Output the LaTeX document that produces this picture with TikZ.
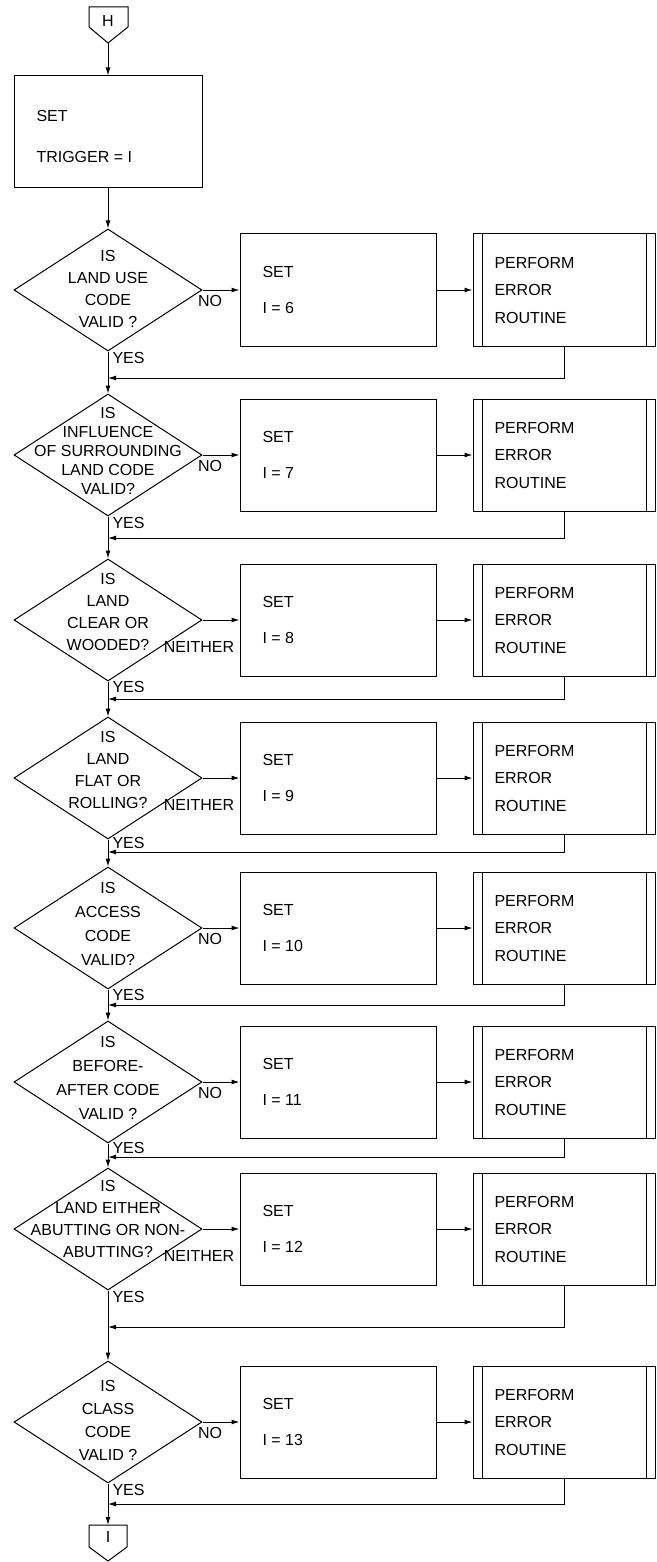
\documentclass[tikz,border=0pt]{standalone}
\usepackage{fontspec}
\setmainfont{Liberation Sans}
\usepackage{tikz}
\usetikzlibrary{shapes.geometric,arrows.meta,positioning}

\begin{document}
\begin{tikzpicture}[x=1pt,y=1pt,line width=1pt,
    font=\fontsize{16}{22}\selectfont,
    decision/.style={diamond,draw,minimum width=188pt,minimum height=122pt,inner sep=0pt},
    setbox/.style={rectangle,draw,minimum width=196pt,minimum height=112pt,inner sep=0pt},
    errbox/.style={rectangle,draw,minimum width=182pt,minimum height=112pt,inner sep=0pt},
    qtext/.style={align=center,inner sep=0pt},
    ltext/.style={anchor=west,inner sep=0pt},
    flow/.style={-{Latex[length=8pt,width=5pt]}}]
        \useasboundingbox (0,0) rectangle (656,-1562);

        % start connector and first box
        \draw (89,-7) -- (128,-7) -- (128,-27) -- (108,-43) -- (89,-27) -- cycle;
        \node (h) at (108,-21) {H};
        \coordinate (htip) at (108,-43);
        \node[rectangle,draw,minimum width=188pt,minimum height=112pt] (b1) at (108,-132) {};
        \node[ltext] (b1a) at (36,-116) {SET};
        \node[ltext] (b1b) at (36,-157) {TRIGGER = I};
        \draw[flow] (htip) -- (b1.north);

        % land use code
        \node[decision] (d1) at (108,-290) {};
        \node[qtext] (q1) at (108,-289) {IS\\LAND USE\\CODE\\VALID ?};
        \node[setbox] (s1) at (338,-290) {};
        \node[ltext] (s1a) at (262,-272) {SET};
        \node[ltext] (s1b) at (262,-308) {I = 6};
        \node[errbox] (p1) at (564,-290) {};
        \node[ltext] (p1a) at (494,-263) {PERFORM};
        \node[ltext] (p1b) at (494,-290) {ERROR};
        \node[ltext] (p1c) at (494,-318) {ROUTINE};
        \node (n1) at (210,-301) {NO};
        \node[ltext] (y1) at (112,-358) {YES};
        \coordinate (r1) at (108,-378);
        \draw ([xshift=10pt]p1.north west) -- ([xshift=10pt]p1.south west) ([xshift=-9pt]p1.north east) -- ([xshift=-9pt]p1.south east);
        \draw[flow] (b1.south) -- (d1.north);
        \draw[flow] (d1.east) -- (s1.west);
        \draw[flow] (s1.east) -- (p1.west);
        \draw[flow] (p1.south) |- (r1);

        % influence of surrounding land
        \node[decision] (d2) at (108,-455) {};
        \node[qtext,font=\fontsize{16}{19}\selectfont] (q2) at (108,-451) {IS\\INFLUENCE\\OF SURROUNDING\\LAND CODE\\VALID?};
        \node[setbox] (s2) at (338,-455) {};
        \node[ltext] (s2a) at (262,-437) {SET};
        \node[ltext] (s2b) at (262,-473) {I = 7};
        \node[errbox] (p2) at (564,-455) {};
        \node[ltext] (p2a) at (494,-428) {PERFORM};
        \node[ltext] (p2b) at (494,-455) {ERROR};
        \node[ltext] (p2c) at (494,-483) {ROUTINE};
        \node (n2) at (210,-466) {NO};
        \node[ltext] (y2) at (112,-523) {YES};
        \coordinate (r2) at (108,-538);
        \draw ([xshift=10pt]p2.north west) -- ([xshift=10pt]p2.south west) ([xshift=-9pt]p2.north east) -- ([xshift=-9pt]p2.south east);
        \draw[flow] (d1.south) -- (d2.north);
        \draw[flow] (d2.east) -- (s2.west);
        \draw[flow] (s2.east) -- (p2.west);
        \draw[flow] (p2.south) |- (r2);

        % clear or wooded
        \node[decision] (d3) at (108,-620) {};
        \node[qtext] (q3) at (108,-612) {IS\\LAND\\CLEAR OR\\WOODED?};
        \node[setbox] (s3) at (338,-620) {};
        \node[ltext] (s3a) at (262,-602) {SET};
        \node[ltext] (s3b) at (262,-638) {I = 8};
        \node[errbox] (p3) at (564,-620) {};
        \node[ltext] (p3a) at (494,-593) {PERFORM};
        \node[ltext] (p3b) at (494,-620) {ERROR};
        \node[ltext] (p3c) at (494,-648) {ROUTINE};
        \node (n3) at (199,-647) {NEITHER};
        \node[ltext] (y3) at (112,-687) {YES};
        \coordinate (r3) at (108,-699);
        \draw ([xshift=10pt]p3.north west) -- ([xshift=10pt]p3.south west) ([xshift=-9pt]p3.north east) -- ([xshift=-9pt]p3.south east);
        \draw[flow] (d2.south) -- (d3.north);
        \draw[flow] (d3.east) -- (s3.west);
        \draw[flow] (s3.east) -- (p3.west);
        \draw[flow] (p3.south) |- (r3);

        % flat or rolling
        \node[decision] (d4) at (108,-778) {};
        \node[qtext] (q4) at (108,-770) {IS\\LAND\\FLAT OR\\ROLLING?};
        \node[setbox] (s4) at (338,-778) {};
        \node[ltext] (s4a) at (262,-760) {SET};
        \node[ltext] (s4b) at (262,-796) {I = 9};
        \node[errbox] (p4) at (564,-778) {};
        \node[ltext] (p4a) at (494,-751) {PERFORM};
        \node[ltext] (p4b) at (494,-778) {ERROR};
        \node[ltext] (p4c) at (494,-806) {ROUTINE};
        \node (n4) at (199,-805) {NEITHER};
        \node[ltext] (y4) at (112,-843) {YES};
        \coordinate (r4) at (108,-852);
        \draw ([xshift=10pt]p4.north west) -- ([xshift=10pt]p4.south west) ([xshift=-9pt]p4.north east) -- ([xshift=-9pt]p4.south east);
        \draw[flow] (d3.south) -- (d4.north);
        \draw[flow] (d4.east) -- (s4.west);
        \draw[flow] (s4.east) -- (p4.west);
        \draw[flow] (p4.south) |- (r4);

        % access code
        \node[decision] (d5) at (108,-928) {};
        \node[qtext,font=\fontsize{16}{24}\selectfont] (q5) at (108,-924) {IS\\ACCESS\\CODE\\VALID?};
        \node[setbox] (s5) at (338,-928) {};
        \node[ltext] (s5a) at (262,-910) {SET};
        \node[ltext] (s5b) at (262,-946) {I = 10};
        \node[errbox] (p5) at (564,-928) {};
        \node[ltext] (p5a) at (494,-901) {PERFORM};
        \node[ltext] (p5b) at (494,-928) {ERROR};
        \node[ltext] (p5c) at (494,-956) {ROUTINE};
        \node (n5) at (210,-939) {NO};
        \node[ltext] (y5) at (112,-995) {YES};
        \coordinate (r5) at (108,-1005);
        \draw ([xshift=10pt]p5.north west) -- ([xshift=10pt]p5.south west) ([xshift=-9pt]p5.north east) -- ([xshift=-9pt]p5.south east);
        \draw[flow] (d4.south) -- (d5.north);
        \draw[flow] (d5.east) -- (s5.west);
        \draw[flow] (s5.east) -- (p5.west);
        \draw[flow] (p5.south) |- (r5);

        % before-after code
        \node[decision] (d6) at (108,-1082) {};
        \node[qtext,font=\fontsize{16}{24}\selectfont] (q6) at (108,-1078) {IS\\BEFORE-\\AFTER CODE\\VALID ?};
        \node[setbox] (s6) at (338,-1082) {};
        \node[ltext] (s6a) at (262,-1064) {SET};
        \node[ltext] (s6b) at (262,-1100) {I = 11};
        \node[errbox] (p6) at (564,-1082) {};
        \node[ltext] (p6a) at (494,-1055) {PERFORM};
        \node[ltext] (p6b) at (494,-1082) {ERROR};
        \node[ltext] (p6c) at (494,-1110) {ROUTINE};
        \node (n6) at (210,-1093) {NO};
        \node[ltext] (y6) at (112,-1148) {YES};
        \coordinate (r6) at (108,-1157);
        \draw ([xshift=10pt]p6.north west) -- ([xshift=10pt]p6.south west) ([xshift=-9pt]p6.north east) -- ([xshift=-9pt]p6.south east);
        \draw[flow] (d5.south) -- (d6.north);
        \draw[flow] (d6.east) -- (s6.west);
        \draw[flow] (s6.east) -- (p6.west);
        \draw[flow] (p6.south) |- (r6);

        % abutting or non-abutting
        \node[decision] (d7) at (108,-1229) {};
        \node[qtext] (q7) at (108,-1219) {IS\\LAND EITHER\\ABUTTING OR NON-\\ABUTTING?};
        \node[setbox] (s7) at (338,-1229) {};
        \node[ltext] (s7a) at (262,-1211) {SET};
        \node[ltext] (s7b) at (262,-1247) {I = 12};
        \node[errbox] (p7) at (564,-1229) {};
        \node[ltext] (p7a) at (494,-1202) {PERFORM};
        \node[ltext] (p7b) at (494,-1229) {ERROR};
        \node[ltext] (p7c) at (494,-1257) {ROUTINE};
        \node (n7) at (199,-1256) {NEITHER};
        \node[ltext] (y7) at (112,-1297) {YES};
        \coordinate (r7) at (108,-1327);
        \draw ([xshift=10pt]p7.north west) -- ([xshift=10pt]p7.south west) ([xshift=-9pt]p7.north east) -- ([xshift=-9pt]p7.south east);
        \draw[flow] (d6.south) -- (d7.north);
        \draw[flow] (d7.east) -- (s7.west);
        \draw[flow] (s7.east) -- (p7.west);
        \draw[flow] (p7.south) |- (r7);

        % class code
        \node[decision] (d8) at (108,-1422) {};
        \node[qtext,font=\fontsize{16}{23}\selectfont] (q8) at (108,-1420) {IS\\CLASS\\CODE\\VALID ?};
        \node[setbox] (s8) at (338,-1422) {};
        \node[ltext] (s8a) at (262,-1404) {SET};
        \node[ltext] (s8b) at (262,-1440) {I = 13};
        \node[errbox] (p8) at (564,-1422) {};
        \node[ltext] (p8a) at (494,-1395) {PERFORM};
        \node[ltext] (p8b) at (494,-1422) {ERROR};
        \node[ltext] (p8c) at (494,-1450) {ROUTINE};
        \node (n8) at (210,-1433) {NO};
        \node[ltext] (y8) at (112,-1490) {YES};
        \coordinate (r8) at (108,-1504);
        \draw ([xshift=10pt]p8.north west) -- ([xshift=10pt]p8.south west) ([xshift=-9pt]p8.north east) -- ([xshift=-9pt]p8.south east);
        \draw[flow] (d7.south) -- (d8.north);
        \draw[flow] (d8.east) -- (s8.west);
        \draw[flow] (s8.east) -- (p8.west);
        \draw[flow] (p8.south) |- (r8);

        % end connector
        \coordinate (itop) at (108,-1525);
        \draw (89,-1525) -- (127,-1525) -- (127,-1547) -- (108,-1561) -- (89,-1547) -- cycle;
        \node (i) at (108,-1537) {I};
        \draw[flow] (d8.south) -- (itop);
\end{tikzpicture}
\end{document}
